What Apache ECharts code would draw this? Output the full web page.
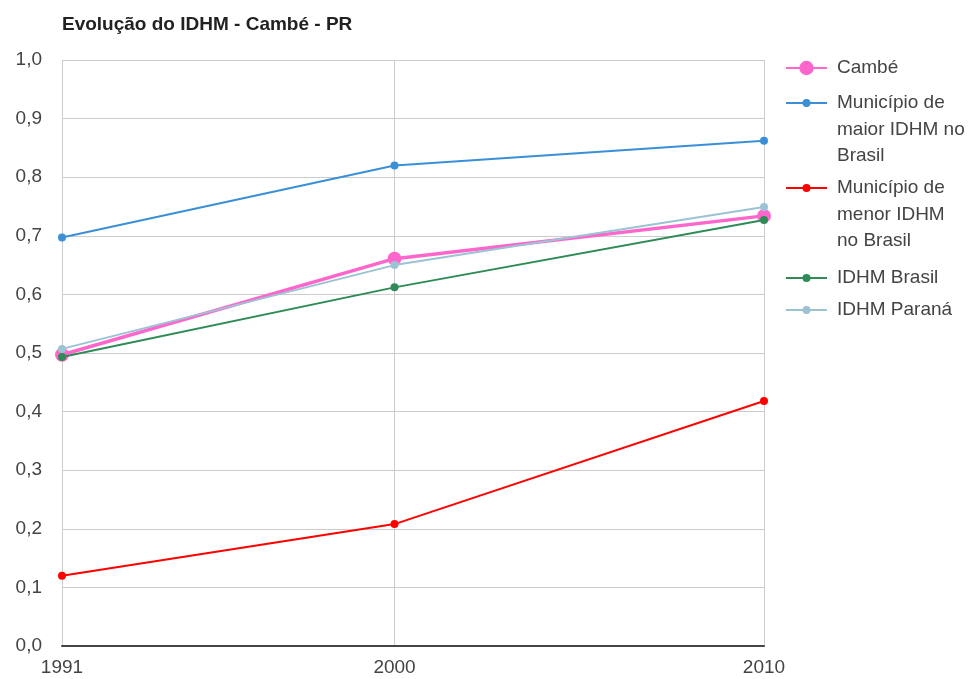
<!DOCTYPE html>
<html><head><meta charset="utf-8">
<script src="https://cdn.jsdelivr.net/npm/echarts@6/dist/echarts.min.js"></script>
<style>html,body{margin:0;padding:0;background:#fff}#c{width:977px;height:679px}</style>
</head><body><div id="c"></div>
<script>
const years = [1991, 2000, 2010];
const yTicks = [0, 0.1, 0.2, 0.3, 0.4, 0.5, 0.6, 0.7, 0.8, 0.9, 1.0];
const seriesNames = ['Cambé', 'Município de maior IDHM no Brasil', 'Município de menor IDHM no Brasil', 'IDHM Brasil', 'IDHM Paraná'];
const legendLabels = ['Cambé', 'Município de\nmaior IDHM no\nBrasil', 'Município de\nmenor IDHM\nno Brasil', 'IDHM Brasil', 'IDHM Paraná'];
const cambe = [0.497, 0.661, 0.734];
const maior = [0.697, 0.820, 0.862];
const menor = [0.120, 0.208, 0.418];
const brasil = [0.493, 0.612, 0.727];
const parana = [0.507, 0.650, 0.749];

const values = [cambe, maior, menor, brasil, parana];
const colors = ['#ff66cc', '#3a8fd6', '#ff0000', '#2e8b57', '#9bc3d3'];
const widths = [3.5, 2, 2, 2, 2];
const sizes = [14, 8, 8, 8, 8];
const iconY = [68, 103, 188, 278, 310];
const LH = 26.5;
const FONT = 'Arial, "Liberation Sans", sans-serif';

const chart = echarts.init(document.getElementById('c'));
const series = seriesNames.map((n, i) => ({
  name: n, type: 'line', symbol: 'circle', symbolSize: sizes[i],
  data: years.map((y, j) => [y, values[i][j]]),
  itemStyle: {color: colors[i]},
  lineStyle: {color: colors[i], width: widths[i]},
  emphasis: {disabled: true}, z: 2 + i
}));
const legends = seriesNames.map((n, i) => {
  const lines = legendLabels[i].split('\n').length;
  const text = '\n'.repeat(lines - 1) + legendLabels[i];
  const total = 2 * lines - 1;
  const ih = i === 0 ? 18 : 10;
  const half = Math.max(total * LH, ih) / 2;
  return {
    data: [n], orient: 'vertical', left: 785, top: iconY[i] - half,
    padding: 0, itemWidth: 41, itemHeight: ih,
    formatter: () => text, selectedMode: false,
    textStyle: {fontSize: 19, color: '#444', fontFamily: FONT, lineHeight: LH, padding: [0, 0, 0, 5]}
  };
});
chart.setOption({
  animation: false,
  title: {text: 'Evolução do IDHM - Cambé - PR', left: 57, top: 10,
    textStyle: {fontSize: 19, fontWeight: 'bold', color: '#222', fontFamily: FONT}},
  legend: legends,
  grid: {left: 62, right: 213, top: 60, bottom: 33, containLabel: false},
  xAxis: {type: 'value', min: years[0], max: years[years.length - 1],
    axisLine: {show: true, lineStyle: {color: '#444', width: 2}},
    axisTick: {show: false, customValues: years},
    axisLabel: {customValues: years, formatter: v => String(v), fontSize: 19, color: '#444', fontFamily: FONT, margin: 12},
    splitLine: {show: true, lineStyle: {color: '#cccccc', width: 1}}},
  yAxis: {type: 'value', min: 0, max: 1, interval: 0.1,
    axisLine: {show: false}, axisTick: {show: false},
    axisLabel: {formatter: v => v.toFixed(1).replace('.', ','), fontSize: 19, color: '#444', fontFamily: FONT, margin: 20},
    splitLine: {show: true, lineStyle: {color: '#cccccc', width: 1}}},
  series: series
});
</script></body></html>
